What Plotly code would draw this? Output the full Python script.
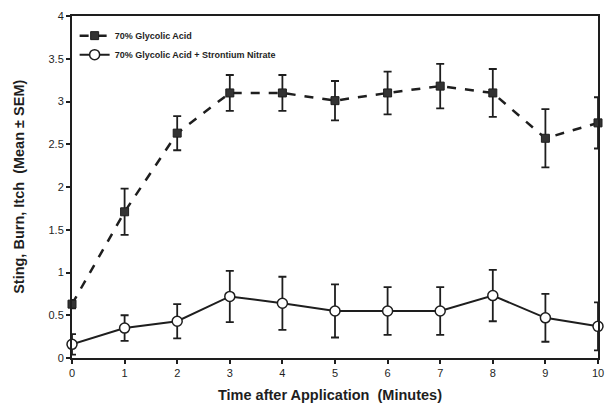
import plotly.graph_objects as go

minutes = [0, 1, 2, 3, 4, 5, 6, 7, 8, 9, 10]
glycolic = [0.63, 1.71, 2.63, 3.10, 3.10, 3.01, 3.10, 3.18, 3.10, 2.57, 2.75]
glycolic_sem = [0.05, 0.27, 0.20, 0.21, 0.21, 0.23, 0.25, 0.26, 0.28, 0.34, 0.30]
strontium = [0.16, 0.35, 0.43, 0.72, 0.64, 0.55, 0.55, 0.55, 0.73, 0.47, 0.37]
strontium_sem = [0.12, 0.15, 0.20, 0.30, 0.31, 0.31, 0.28, 0.28, 0.30, 0.28, 0.28]
y_ticks = [0, 0.5, 1, 1.5, 2, 2.5, 3, 3.5, 4]
y_tick_labels = ["0", "0.5", "1", "1.5", "2", "2.5", "3", "3.5", "4"]

ink = "#1e1e1e"
fig = go.Figure()
fig.add_trace(go.Scatter(
    x=minutes, y=glycolic, name="<b>70% Glycolic Acid</b>", mode="lines+markers",
    line=dict(color=ink, width=2.5, dash="dash"),
    marker=dict(symbol="square", size=8, color="#333333", line=dict(color=ink, width=1)),
    error_y=dict(type="data", array=glycolic_sem, color=ink, thickness=1.8, width=4),
    cliponaxis=False,
))
fig.add_trace(go.Scatter(
    x=minutes, y=strontium, name="<b>70% Glycolic Acid + Strontium Nitrate</b>", mode="lines+markers",
    line=dict(color=ink, width=2),
    marker=dict(symbol="circle", size=10, color="white", line=dict(color=ink, width=1.5)),
    error_y=dict(type="data", array=strontium_sem, color=ink, thickness=1.8, width=4),
    cliponaxis=False,
))

fig.update_layout(
    width=605, height=406,
    margin=dict(l=72, r=7, t=16, b=48),
    paper_bgcolor="white", plot_bgcolor="white",
    font=dict(family="Liberation Sans, Arial, sans-serif", color=ink),
    showlegend=True,
    legend=dict(x=0.005, y=0.985, xanchor="left", yanchor="top",
                font=dict(size=9, color=ink), bgcolor="rgba(0,0,0,0)",
                tracegroupgap=2, itemwidth=30),
    xaxis=dict(range=[0, 10], tickmode="array", tickvals=minutes,
               ticks="outside", ticklen=4, tickwidth=1.5, tickcolor=ink,
               showline=True, linecolor=ink, linewidth=2, mirror=True,
               showgrid=False, zeroline=False, automargin=False,
               tickfont=dict(size=11, color=ink)),
    yaxis=dict(range=[0, 4], tickmode="array", tickvals=y_ticks, ticktext=y_tick_labels,
               ticks="outside", ticklen=4, tickwidth=1.5, tickcolor=ink,
               showline=True, linecolor=ink, linewidth=2, mirror=True,
               showgrid=False, zeroline=False, automargin=False,
               tickfont=dict(size=11, color=ink)),
    annotations=[
        dict(text="<b>Time after Application  (Minutes)</b>", xref="paper", yref="paper",
             x=0.49, y=-0.08, xanchor="center", yanchor="top", showarrow=False,
             font=dict(size=14.5, color=ink)),
        dict(text="<b>Sting, Burn, Itch  (Mean \u00b1 SEM)</b>", xref="paper", yref="paper",
             x=-0.082, y=0.5, xanchor="right", yanchor="middle", textangle=-90, showarrow=False,
             font=dict(size=14.5, color=ink)),
    ],
)
fig.write_html("out.html", config={"displayModeBar": False},
               post_script="document.body.style.margin='0';document.body.style.overflow='hidden';")
